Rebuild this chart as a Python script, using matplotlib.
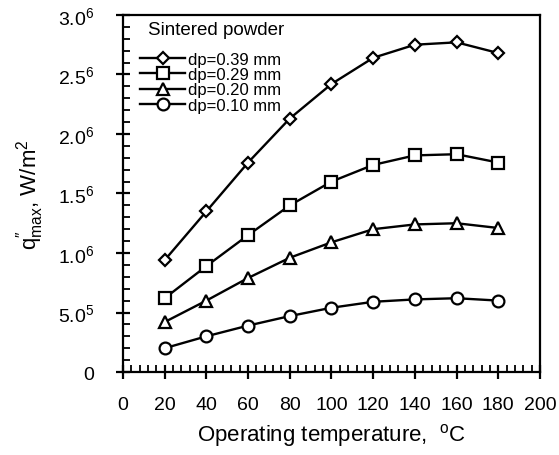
import matplotlib
matplotlib.use("Agg")
import matplotlib.pyplot as plt
from matplotlib.ticker import AutoMinorLocator, FixedLocator, FixedFormatter

plt.rcParams['font.family'] = ['Liberation Sans', 'DejaVu Sans']
plt.rcParams['mathtext.fontset'] = 'custom'
plt.rcParams['mathtext.rm'] = 'Liberation Sans'
plt.rcParams['mathtext.it'] = 'Liberation Sans:italic'
plt.rcParams['mathtext.bf'] = 'Liberation Sans:bold'

temperature = [20, 40, 60, 80, 100, 120, 140, 160, 180]
q_039 = [0.94e6, 1.35e6, 1.76e6, 2.13e6, 2.42e6, 2.64e6, 2.75e6, 2.77e6, 2.68e6]
q_029 = [0.62e6, 0.89e6, 1.15e6, 1.40e6, 1.60e6, 1.74e6, 1.82e6, 1.83e6, 1.76e6]
q_020 = [0.42e6, 0.60e6, 0.79e6, 0.96e6, 1.09e6, 1.20e6, 1.24e6, 1.25e6, 1.21e6]
q_010 = [0.20e6, 0.30e6, 0.39e6, 0.47e6, 0.54e6, 0.59e6, 0.61e6, 0.62e6, 0.60e6]

labels = ['dp=0.39 mm', 'dp=0.29 mm', 'dp=0.20 mm', 'dp=0.10 mm']
legend_title = 'Sintered powder'
markers = ['D', 's', '^', 'o']
msizes = [6, 9, 8, 8.5]

x_ticks = [0, 20, 40, 60, 80, 100, 120, 140, 160, 180, 200]
y_ticks = [0, 0.5e6, 1.0e6, 1.5e6, 2.0e6, 2.5e6, 3.0e6]
y_ticklabels = ['0', r'$5.0^5$', r'$1.0^6$', r'$1.5^6$', r'$2.0^6$', r'$2.5^6$', r'$3.0^6$']

fig = plt.figure(figsize=(5.59, 4.56), dpi=100)
ax = fig.add_axes([0.220, 0.182, 0.746, 0.783])

for ys, lab, m, ms in zip([q_039, q_029, q_020, q_010], labels, markers, msizes):
    ax.plot(temperature, ys, color='black', lw=1.7, marker=m, ms=ms,
            mfc='white', mec='black', mew=1.6, label=lab)

ax.set_xlim(0, 200)
ax.set_ylim(0, 3.0e6)
ax.xaxis.set_major_locator(FixedLocator(x_ticks))
ax.yaxis.set_major_locator(FixedLocator(y_ticks))
ax.yaxis.set_major_formatter(FixedFormatter(y_ticklabels))
ax.xaxis.set_minor_locator(AutoMinorLocator(5))
ax.yaxis.set_minor_locator(AutoMinorLocator(5))

ax.tick_params(which='major', direction='inout', length=10, width=1.6, labelsize=14)
ax.tick_params(which='minor', direction='in', length=5, width=1.3)
ax.tick_params(axis='x', which='major', pad=12)
ax.tick_params(axis='y', which='major', pad=16)
for s in ax.spines.values():
    s.set_linewidth(1.6)

ax.set_xlabel(r'Operating temperature,  $^{\rm o}$C', fontsize=16, labelpad=6)
ax.set_ylabel('q$^{\u2033}_{\\rm max}$, W/m$^{2}$', fontsize=16, labelpad=8)

ax.text(0.060, 0.958, legend_title, transform=ax.transAxes, fontsize=13.5,
        ha='left', va='center')
leg = ax.legend(loc='upper left', frameon=False,
                fontsize=12, handlelength=2.7, borderpad=0.0,
                handletextpad=0.15, labelspacing=0.02, borderaxespad=0.0,
                bbox_to_anchor=(0.041, 0.897))

fig.savefig('out.png', dpi=100)
